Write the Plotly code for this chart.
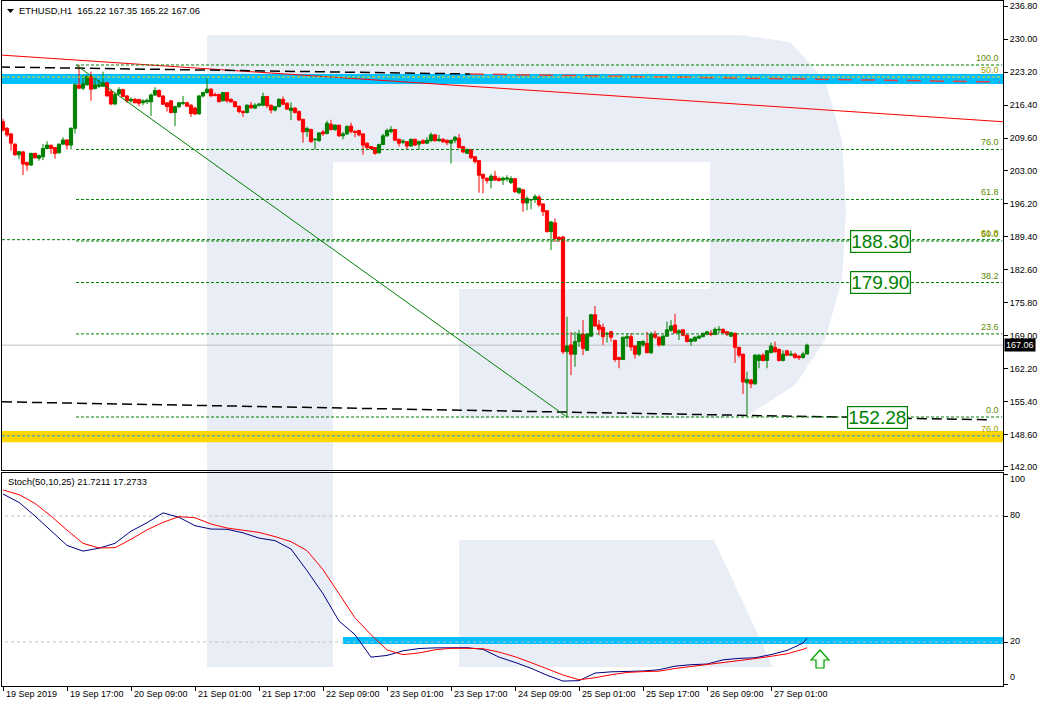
import plotly.graph_objects as go

# ---------------- data ----------------
opens = [
    213.0, 211.65, 210.5, 208.4, 206.2, 206.8, 204.6, 204.1, 206.5, 205.5,
    205.8, 207.5, 208.15, 207.7, 206.6, 208.4, 209.25, 208.2, 211.65, 220.56,
    219.9, 220.6, 222.3, 219.8, 220.3, 220.3, 221.0, 219.2, 216.65, 218.7,
    219.6, 218.3, 217.3, 217.6, 217.6, 216.9, 217.1, 217.1, 218.5, 219.4,
    218.3, 216.9, 217.3, 214.9, 216.1, 216.8, 216.9, 216.4, 215.8, 214.6,
    218.3, 219.0, 219.7, 218.6, 218.6, 217.3, 219.0, 217.6, 217.1, 216.2,
    215.1, 214.9, 216.4, 215.8, 216.4, 216.4, 218.2, 216.4, 215.4, 216.1,
    217.6, 216.8, 215.3, 215.8, 215.07, 213.5, 211.0, 211.4, 209.3, 209.1,
    210.9, 210.6, 212.5, 211.4, 212.3, 210.1, 210.5, 212.1, 211.0, 211.2,
    210.5, 208.6, 207.9, 207.7, 206.6, 208.3, 210.1, 211.0, 211.4, 209.4,
    208.8, 208.9, 208.0, 209.4, 208.4, 209.1, 208.6, 209.1, 210.3, 209.1,
    209.4, 209.2, 208.6, 209.2, 209.6, 207.9, 206.5, 207.3, 205.8, 205.0,
    202.2, 201.4, 200.9, 201.8, 201.3, 201.0, 201.2, 200.5, 201.3, 198.4,
    199.0, 196.3, 196.9, 197.0, 197.5, 196.1, 194.7, 190.4, 192.2, 189.2,
    189.3, 165.7, 167.1, 165.2, 167.8, 169.3, 166.0, 168.9, 173.3, 171.2,
    170.7, 169.4, 169.8, 168.0, 164.5, 164.1, 168.5, 168.8, 166.9, 165.2,
    167.1, 167.4, 165.5, 169.3, 168.7, 167.1, 168.9, 170.1, 171.2, 169.6,
    170.2, 169.1, 167.8, 167.9, 168.5, 168.8, 169.3, 169.5, 169.3, 170.2,
    170.3, 169.8, 168.9, 169.5, 166.6, 165.2, 159.3, 159.9, 159.1, 163.9,
    165.0, 163.9, 165.5, 166.6, 166.2, 163.9, 165.9, 165.0, 165.2, 164.8,
    164.5, 165.22]

highs = [
    213.6, 211.9, 210.7, 208.5, 207.0, 207.0, 204.8, 206.6, 206.6, 206.3,
    208.4, 209.0, 208.3, 207.8, 208.5, 209.8, 209.4, 211.85, 221.0, 224.7,
    222.6, 222.6, 223.3, 221.9, 221.6, 223.3, 221.2, 219.7, 219.0, 220.1,
    219.8, 218.5, 218.0, 217.9, 217.6, 217.6, 217.8, 218.8, 220.1, 219.7,
    218.4, 217.0, 217.4, 216.3, 217.1, 218.3, 217.1, 216.6, 216.1, 218.5,
    219.2, 221.9, 219.9, 219.0, 218.8, 219.1, 219.1, 217.8, 217.3, 216.3,
    215.4, 216.6, 217.1, 216.8, 216.9, 219.0, 218.3, 216.5, 216.2, 217.8,
    218.2, 217.0, 217.0, 216.0, 215.4, 213.6, 212.0, 211.6, 209.6, 210.8,
    211.3, 213.2, 213.4, 212.5, 212.4, 210.9, 212.3, 212.8, 211.3, 211.3,
    210.6, 208.7, 208.0, 207.8, 208.5, 210.5, 211.6, 212.1, 211.5, 209.5,
    209.4, 209.0, 209.5, 209.5, 209.1, 209.4, 209.8, 210.8, 210.5, 210.3,
    209.6, 209.3, 209.2, 210.1, 210.5, 208.0, 207.5, 207.4, 205.9, 205.1,
    202.3, 201.5, 202.3, 202.9, 201.7, 201.7, 202.0, 201.8, 201.4, 199.5,
    199.2, 197.7, 197.1, 198.1, 197.9, 196.2, 194.8, 192.6, 193.1, 189.5,
    189.5, 172.9, 169.8, 169.8, 170.2, 172.2, 169.5, 173.5, 175.1, 172.2,
    171.5, 169.8, 170.0, 168.2, 164.7, 168.7, 169.5, 169.5, 167.0, 167.9,
    168.1, 169.8, 169.8, 170.0, 168.8, 169.1, 171.9, 172.2, 173.5, 170.3,
    170.3, 169.2, 168.5, 168.8, 169.1, 169.6, 170.0, 170.2, 170.7, 171.0,
    170.5, 169.9, 169.8, 169.6, 166.7, 165.3, 161.6, 160.1, 165.2, 165.2,
    165.4, 166.0, 167.6, 167.8, 166.3, 166.0, 166.1, 165.9, 165.5, 165.0,
    165.7, 167.35]

lows = [
    211.0, 209.9, 207.05, 206.0, 205.3, 202.05, 202.9, 203.9, 205.4, 205.0,
    205.1, 207.3, 206.4, 205.4, 206.5, 208.2, 207.3, 207.3, 210.6, 219.7,
    219.5, 220.4, 217.3, 219.7, 219.9, 220.2, 218.2, 216.4, 216.4, 218.6,
    218.0, 216.9, 216.9, 216.8, 216.2, 216.4, 216.6, 214.2, 218.3, 218.0,
    216.5, 215.1, 214.7, 212.1, 215.8, 216.4, 216.1, 214.0, 214.4, 214.5,
    218.0, 218.8, 218.2, 218.2, 217.0, 217.2, 216.9, 216.9, 216.0, 214.7,
    214.0, 214.7, 215.6, 215.6, 216.1, 216.2, 215.8, 214.7, 215.1, 216.0,
    216.4, 215.4, 213.35, 214.7, 213.2, 208.7, 209.9, 208.7, 207.3, 208.9,
    210.1, 210.4, 211.2, 211.1, 209.9, 209.4, 210.3, 210.6, 209.8, 210.0,
    206.2, 207.3, 207.2, 206.2, 206.5, 208.2, 209.9, 210.6, 209.1, 207.9,
    208.4, 207.3, 207.9, 208.0, 207.2, 208.4, 208.4, 208.9, 208.9, 208.9,
    208.6, 208.2, 204.4, 208.6, 207.5, 206.5, 206.4, 205.3, 204.4, 198.4,
    198.3, 200.3, 199.3, 200.9, 200.7, 200.0, 200.7, 200.2, 198.4, 198.1,
    194.5, 194.8, 195.0, 196.3, 195.5, 193.6, 190.2, 186.6, 188.3, 188.3,
    165.2, 152.28, 160.9, 162.6, 166.7, 165.0, 165.9, 168.8, 170.9, 169.1,
    167.1, 167.6, 167.8, 163.6, 162.3, 164.0, 166.7, 165.9, 164.3, 164.8,
    166.7, 165.4, 165.2, 168.3, 166.7, 166.9, 168.8, 169.8, 169.5, 168.1,
    168.9, 167.6, 166.9, 167.8, 168.3, 168.7, 169.1, 168.9, 169.1, 169.5,
    169.5, 168.9, 168.7, 163.4, 164.5, 157.0, 152.4, 158.2, 158.9, 162.3,
    163.7, 162.3, 165.4, 165.5, 163.7, 163.7, 164.8, 164.8, 164.3, 164.0,
    164.3, 165.22]

closes = [
    211.3, 210.3, 208.6, 206.2, 206.85, 204.3, 204.1, 206.5, 205.6, 206.0,
    207.5, 208.2, 207.5, 206.5, 208.4, 209.25, 208.2, 211.65, 220.6, 219.9,
    220.8, 222.3, 219.7, 220.6, 220.6, 221.0, 218.3, 216.65, 218.6, 219.6,
    218.2, 217.3, 217.6, 216.9, 216.8, 217.3, 217.4, 218.5, 219.4, 218.2,
    216.6, 216.1, 214.9, 216.1, 216.9, 216.9, 216.2, 214.7, 214.6, 218.3,
    219.0, 219.7, 218.3, 218.4, 217.1, 219.0, 217.3, 217.1, 216.1, 215.1,
    214.9, 216.4, 215.9, 216.4, 216.6, 218.2, 216.3, 215.4, 216.1, 217.6,
    216.6, 215.6, 215.8, 214.9, 213.35, 210.9, 211.6, 208.9, 209.4, 210.7,
    210.5, 212.7, 211.4, 212.3, 210.1, 210.5, 212.0, 211.0, 210.8, 210.3,
    208.2, 207.7, 207.5, 206.5, 208.3, 210.1, 211.2, 211.4, 209.2, 208.6,
    209.0, 208.0, 209.4, 208.2, 208.9, 208.6, 209.2, 210.3, 209.1, 209.4,
    208.9, 208.7, 209.2, 209.8, 207.7, 206.8, 207.3, 205.6, 204.8, 202.0,
    201.4, 200.9, 201.8, 201.0, 200.9, 201.4, 201.4, 201.3, 198.6, 199.3,
    196.3, 197.2, 197.0, 197.6, 195.9, 194.5, 190.4, 192.4, 189.0, 188.8,
    165.7, 166.9, 165.2, 167.8, 169.3, 166.4, 169.3, 173.3, 171.0, 170.3,
    168.8, 169.4, 168.7, 164.1, 164.1, 168.7, 168.8, 166.7, 165.2, 167.8,
    167.8, 165.5, 169.3, 168.7, 167.1, 168.9, 170.2, 171.0, 169.6, 170.0,
    169.1, 167.8, 168.3, 168.7, 168.9, 169.5, 169.8, 169.3, 170.3, 170.3,
    169.6, 169.3, 169.6, 166.6, 165.0, 159.5, 160.0, 159.1, 165.0, 165.0,
    163.9, 165.9, 166.9, 165.7, 163.9, 165.2, 165.0, 165.2, 164.5, 164.5,
    165.22, 167.06]

assert len(opens) == len(highs) == len(lows) == len(closes) == 202
bars = list(range(len(closes)))

# x-axis time labels (every 16 hourly bars)
tick_bars = [0, 16, 32, 48, 64, 80, 96, 112, 128, 144, 160, 176, 192]
tick_labels = ["19 Sep 2019", "19 Sep 17:00", "20 Sep 09:00", "21 Sep 01:00",
               "21 Sep 17:00", "22 Sep 09:00", "23 Sep 01:00", "23 Sep 17:00",
               "24 Sep 09:00", "25 Sep 01:00", "25 Sep 17:00", "26 Sep 09:00",
               "27 Sep 01:00"]

# price axis labels
price_ticks = [236.8, 230.0, 223.2, 216.4, 209.6, 203.0, 196.2, 189.4,
               182.6, 175.8, 169.0, 162.2, 155.4, 148.6, 142.0]

# stochastic (sampled every 4 bars + last bar)
stoch_bars = list(range(0, 201, 4)) + [201]
stoch_k = [90.5, 86.5, 80, 72.8, 66, 63.3, 64.7, 67, 72.8, 76.8, 81.5, 79.4, 75.4,
           73.8, 73.7, 72, 69.5, 68.3, 64.3, 54, 43, 30, 23.5, 12.8, 13.6, 15.8,
           16.9, 17.2, 17.3, 17.3, 16.5, 12.8, 10.3, 7.5, 4.2, 1.4, 1.6, 5.2, 5.8,
           6.0, 6.2, 6.8, 8.5, 9.2, 9.5, 11.5, 12.2, 12.5, 14, 16, 19.5, 21.72]
stoch_d = [92.4, 90.2, 86, 80, 73.3, 67, 64.8, 64.9, 68.9, 73.4, 77, 79.7, 79.2,
           76.2, 74.3, 73.3, 72.2, 70.2, 67.8, 63.5, 54.5, 43, 31.5, 23.5, 16.2, 14,
           14.8, 16.3, 17, 17, 16.8, 15.2, 13, 10.2, 7.2, 4.3, 2, 3, 4.4, 5.5, 5.9,
           6.1, 7.4, 8.3, 9.2, 10.1, 11, 12.1, 13.2, 14.4, 16.5, 17.27]
stoch_levels = [80, 20]

# Fibonacci (high -> low)
fib1_low, fib1_high = 152.28, 224.67
fib1_start_bar = 18.25
fib1_levels = [0.0, 23.6, 38.2, 50.0, 61.8, 76.0, 100.0]
fib2_prices = [222.2, 188.75, 148.4]
fib2_labels = ["50.0", "61.8", "76.0"]

# trend lines (bar index, price)
red_trend_x, red_trend_y = [-0.25, 250], [226.7, 213.0]
black_top_x, black_top_y = [-0.75, 116.75], [224.26, 222.82]
red_dash_x, red_dash_y = [116.75, 249.25], [222.82, 221.17]
black_bot_x, black_bot_y = [-0.25, 247], [155.4, 151.7]
green_diag_x, green_diag_y = [18.25, 141], [224.67, 152.28]

# zones
blue_zone = (220.76, 222.82)
yellow_zone = (147.1, 149.4)
stoch_zone = (85, 19.0, 22.4)

last_price = 167.06
price_boxes = [("188.30", 219.25, 188.35), ("179.90", 219.25, 180.0), ("152.28", 218.6, 152.2)]

# ---------------- geometry helpers ----------------
W, H = 1045, 705
ML, MR, MT, MB = 2, 42, 1, 19
PW, PH = W - ML - MR, H - MT - MB


def px(x):
    return (x - ML) / PW


def py(y):
    return (H - MB - y) / PH


FONT = "Tahoma, 'Liberation Sans', Arial, sans-serif"
GREEN = "#008000"
OLIVE = "#5E8A00"
FIB2C = "#A0A000"
LOGO = "#E9EDF5"

fig = go.Figure()

fig.add_trace(go.Candlestick(
    x=bars, open=opens, high=highs, low=lows, close=closes,
    xaxis="x", yaxis="y", whiskerwidth=0,
    increasing=dict(line=dict(color=GREEN, width=1), fillcolor=GREEN),
    decreasing=dict(line=dict(color="#FF0000", width=1), fillcolor="#FF0000"),
    showlegend=False, hoverinfo="skip"))

# trend lines
fig.add_trace(go.Scatter(x=red_trend_x, y=red_trend_y, mode="lines",
                         line=dict(color="#FF0000", width=1), showlegend=False, hoverinfo="skip"))
fig.add_trace(go.Scatter(x=black_top_x, y=black_top_y, mode="lines",
                         line=dict(color="#000000", width=1.5, dash="10px,5px"), showlegend=False, hoverinfo="skip"))
fig.add_trace(go.Scatter(x=red_dash_x, y=red_dash_y, mode="lines",
                         line=dict(color="#E8403A", width=1.5, dash="14px,9px"), showlegend=False, hoverinfo="skip"))
fig.add_trace(go.Scatter(x=black_bot_x, y=black_bot_y, mode="lines",
                         line=dict(color="#000000", width=1.5, dash="10px,5px"), showlegend=False, hoverinfo="skip"))
fig.add_trace(go.Scatter(x=green_diag_x, y=green_diag_y, mode="lines",
                         line=dict(color=GREEN, width=1), showlegend=False, hoverinfo="skip"))

# stochastic
fig.add_trace(go.Scatter(x=stoch_bars, y=stoch_k, mode="lines", xaxis="x2", yaxis="y2",
                         line=dict(color="#000080", width=1), showlegend=False, hoverinfo="skip"))
fig.add_trace(go.Scatter(x=stoch_bars, y=stoch_d, mode="lines", xaxis="x2", yaxis="y2",
                         line=dict(color="#FF0000", width=1), showlegend=False, hoverinfo="skip"))

shapes = []


def pp(points):
    s = "M " + " L ".join(f"{px(x):.5f},{py(y):.5f}" for x, y in points) + " Z"
    return s


# watermark logo (paper coordinates)
shapes.append(dict(type="rect", xref="paper", yref="paper", x0=px(207), x1=px(333),
                   y0=py(667), y1=py(35), fillcolor=LOGO, line=dict(width=0), layer="below"))
bowl = [(333, 35), (740, 35), (790, 42), (825, 80), (842, 140), (846, 210), (842, 280),
        (825, 340), (795, 385), (750, 414), (720, 418), (459, 418), (459, 289),
        (710, 289), (710, 162), (333, 162)]
shapes.append(dict(type="path", xref="paper", yref="paper", path=pp(bowl),
                   fillcolor=LOGO, line=dict(width=0), layer="below"))
leg = [(459, 540), (714, 540), (773, 667), (459, 667)]
shapes.append(dict(type="path", xref="paper", yref="paper", path=pp(leg),
                   fillcolor=LOGO, line=dict(width=0), layer="below"))

# zones
shapes.append(dict(type="rect", xref="x", yref="y", x0=-1, x1=251, y0=blue_zone[0], y1=blue_zone[1],
                   fillcolor="#00BFFF", line=dict(width=0), layer="below"))
shapes.append(dict(type="rect", xref="x", yref="y", x0=-1, x1=251, y0=yellow_zone[0], y1=yellow_zone[1],
                   fillcolor="#FFD700", line=dict(width=0), layer="below"))
shapes.append(dict(type="rect", xref="x2", yref="y2", x0=stoch_zone[0], x1=251, y0=stoch_zone[1],
                   y1=stoch_zone[2], fillcolor="#00BFFF", line=dict(width=0), layer="below"))
for lv in stoch_levels:
    shapes.append(dict(type="line", xref="x2", yref="y2", x0=-1, x1=251, y0=lv, y1=lv,
                       line=dict(color="#C0C0C0", width=1, dash="3px,3px"), layer="below"))

# current price line
shapes.append(dict(type="line", xref="x", yref="y", x0=-1, x1=251, y0=last_price, y1=last_price,
                   line=dict(color="#C0C0C0", width=1), layer="below"))

annotations = []
# fib 1
for lv in fib1_levels:
    p = fib1_low + lv / 100 * (fib1_high - fib1_low)
    shapes.append(dict(type="line", xref="x", yref="y", x0=fib1_start_bar, x1=249.8, y0=p, y1=p,
                       line=dict(color=GREEN, width=1, dash="3px,2px")))
    annotations.append(dict(xref="x", yref="y", x=249.6, y=p, text=f"{lv:.1f}", showarrow=False,
                            xanchor="right", yanchor="bottom", font=dict(family=FONT, size=9, color=OLIVE)))
# fib 2
fib2_colors = ["#FFD700", GREEN, "#1E90FF"]
for p, lab, c in zip(fib2_prices, fib2_labels, fib2_colors):
    shapes.append(dict(type="line", xref="x", yref="y", x0=-0.25, x1=249.8, y0=p, y1=p,
                       line=dict(color=c, width=1, dash="3px,2px")))
    annotations.append(dict(xref="x", yref="y", x=249.6, y=p, text=lab, showarrow=False,
                            xanchor="right", yanchor="bottom", font=dict(family=FONT, size=9, color=FIB2C)))

# green arrow in stochastic window
arrow = [(820, 650), (829, 660), (824, 660), (824, 668), (816, 668), (816, 660), (811, 660)]
shapes.append(dict(type="path", xref="paper", yref="paper", path=pp(arrow),
                   fillcolor="#F0FFF0", line=dict(color="#00A000", width=1.2)))

# header triangle
tri = [(7, 9), (14, 9), (10.5, 13)]
shapes.append(dict(type="path", xref="paper", yref="paper", path=pp(tri),
                   fillcolor="#000000", line=dict(width=0)))

# price boxes
for txt, bx, byv in price_boxes:
    annotations.append(dict(xref="x", yref="y", x=bx, y=byv, text=txt, showarrow=False,
                            font=dict(family=FONT, size=19, color=GREEN), bgcolor="#FFFFFF",
                            bordercolor=GREEN, borderwidth=1.2, borderpad=0))

# last price tag
annotations.append(dict(xref="paper", yref="y", x=px(1004), y=last_price, text="167.06",
                        showarrow=False, xanchor="left", yanchor="middle", bgcolor="#000000",
                        font=dict(family=FONT, size=9, color="#FFFFFF"), borderpad=1))

# headers
annotations.append(dict(xref="paper", yref="paper", x=px(17), y=py(10), xanchor="left", yanchor="middle",
                        text="ETHUSD,H1  165.22 167.35 165.22 167.06", showarrow=False,
                        font=dict(family=FONT, size=9.4, color="#000000")))
annotations.append(dict(xref="paper", yref="paper", x=px(6), y=py(481), xanchor="left", yanchor="middle",
                        text="Stoch(50,10,25) 21.7211 17.2733", showarrow=False,
                        font=dict(family=FONT, size=9.4, color="#000000")))

# time labels
for b, lab in zip(tick_bars, tick_labels):
    annotations.append(dict(xref="x2", yref="paper", x=b + 0.2, y=py(694), xanchor="left", yanchor="middle",
                            text=lab, showarrow=False, font=dict(family=FONT, size=9, color="#000000")))

# stochastic scale labels
for v, ypix in [(100, 479), (80, 515), (20, 641), (0, 677)]:
    annotations.append(dict(xref="paper", yref="paper", x=px(1008), y=py(ypix), xanchor="left",
                            yanchor="middle", text=str(v), showarrow=False,
                            font=dict(family=FONT, size=9, color="#000000")))

axis_common = dict(showgrid=False, zeroline=False, showline=True, mirror=True,
                   linecolor="#000000", linewidth=1)

fig.update_layout(
    width=W, height=H,
    margin=dict(l=ML, r=MR, t=MT, b=MB),
    paper_bgcolor="#FFFFFF", plot_bgcolor="rgba(0,0,0,0)",
    showlegend=False,
    boxgap=0.2, boxgroupgap=0,
    xaxis=dict(domain=[0, 1], anchor="y", range=[-0.25, 250], showticklabels=False, ticks="",
               rangeslider=dict(visible=False), **axis_common),
    yaxis=dict(domain=[py(470), 1], anchor="x", range=[141.38, 237.83], side="right",
               tickvals=price_ticks, ticktext=[f"{v:.2f}" for v in price_ticks],
               ticks="outside", ticklen=4, tickcolor="#000000",
               tickfont=dict(family=FONT, size=9, color="#000000"), **axis_common),
    xaxis2=dict(domain=[0, 1], anchor="y2", range=[-0.25, 250], tickvals=tick_bars,
                ticks="outside", ticklen=4, tickcolor="#000000", showticklabels=False, **axis_common),
    yaxis2=dict(domain=[0, py(473)], anchor="x2", range=[-0.95, 100.5], side="right",
                tickvals=[0, 20, 80, 100], ticks="outside", ticklen=4, tickcolor="#000000",
                showticklabels=False, **axis_common),
    shapes=shapes,
    annotations=annotations,
)

fig.write_html(
    "out.html",
    config={"displayModeBar": False, "staticPlot": True},
    post_script="document.body.style.margin='0';document.body.style.overflow='hidden';",
)
